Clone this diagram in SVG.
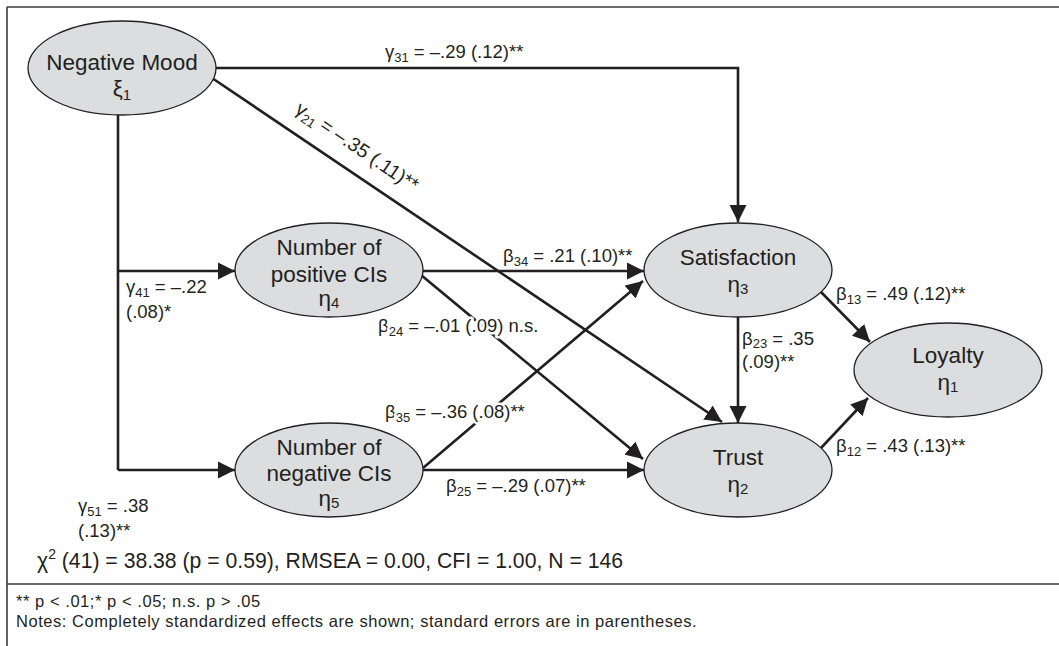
<svg xmlns="http://www.w3.org/2000/svg" width="1059" height="646" viewBox="0 0 1059 646">
<defs>
<style>
.frame{stroke:#3a3a3a;stroke-width:1.6;fill:none}
.node{fill:#dcdddf;stroke:#231f20;stroke-width:1.3}
.nt{font-family:"Liberation Sans",Arial,sans-serif;font-size:22.5px;fill:#231f20;text-anchor:middle}
.lbl{font-family:"Liberation Sans",Arial,sans-serif;font-size:18.5px;fill:#231f20}
.halo{stroke:#fff;stroke-width:5;paint-order:stroke;stroke-linejoin:round}
.sub{font-size:13px}
.edge{stroke:#231f20;stroke-width:2.6;fill:none}
.fit{font-family:"Liberation Sans",Arial,sans-serif;font-size:21.2px;fill:#231f20}
.foot{font-family:"Liberation Sans",Arial,sans-serif;font-size:16.5px;letter-spacing:0.55px;fill:#231f20}
</style>
<marker id="arr" markerUnits="userSpaceOnUse" markerWidth="18" markerHeight="18" refX="17" refY="8.5" orient="auto" viewBox="0 0 18 17">
<path d="M0,0 L17,8.5 L0,17 z" fill="#231f20"/>
</marker>
</defs>
<rect width="1059" height="646" fill="#fff"/>
<g id="frame">
<line class="frame" x1="7" y1="7" x2="1059" y2="7"/>
<line class="frame" x1="7" y1="7" x2="7" y2="646"/>
<line class="frame" x1="7" y1="584" x2="1059" y2="584"/>
</g>
<g id="connectors">
<path class="edge" d="M216,68 H738 V222" marker-end="url(#arr)"/>
<path class="edge" d="M212,78 L722,422" marker-end="url(#arr)"/>
<path class="edge" d="M118,114 V470"/>
<path class="edge" d="M118,271 H235" marker-end="url(#arr)"/>
<path class="edge" d="M118,470 H235" marker-end="url(#arr)"/>
<path class="edge" d="M423,271 H644" marker-end="url(#arr)"/>
<path class="edge" d="M421,275 L643,459" marker-end="url(#arr)"/>
<path class="edge" d="M423,468 L643,281" marker-end="url(#arr)"/>
<path class="edge" d="M423,470 H644" marker-end="url(#arr)"/>
<path class="edge" d="M738,317 V423" marker-end="url(#arr)"/>
<path class="edge" d="M821,292 L870,342" marker-end="url(#arr)"/>
<path class="edge" d="M821,448 L868,398" marker-end="url(#arr)"/>
</g>
<g id="node-negative-mood">
<ellipse class="node" cx="122" cy="68" rx="94" ry="47"/>
<text class="nt" x="122" y="70">Negative Mood</text>
<text class="nt" x="122" y="96">ξ<tspan font-size="15" dy="4">1</tspan></text>
</g>
<g id="node-positive">
<ellipse class="node" cx="329" cy="270" rx="94" ry="47"/>
<text class="nt" x="329" y="255">Number of</text>
<text class="nt" x="329" y="282">positive CIs</text>
<text class="nt" x="329" y="306">η<tspan font-size="15" dy="2">4</tspan></text>
</g>
<g id="node-negative">
<ellipse class="node" cx="329" cy="470" rx="94" ry="47"/>
<text class="nt" x="329" y="455">Number of</text>
<text class="nt" x="329" y="481">negative CIs</text>
<text class="nt" x="329" y="506">η<tspan font-size="15" dy="2">5</tspan></text>
</g>
<g id="node-satisfaction">
<ellipse class="node" cx="738" cy="270" rx="94" ry="47"/>
<text class="nt" x="738" y="265">Satisfaction</text>
<text class="nt" x="738" y="292">η<tspan font-size="15" dy="2">3</tspan></text>
</g>
<g id="node-trust">
<ellipse class="node" cx="738" cy="470" rx="94" ry="47"/>
<text class="nt" x="738" y="465">Trust</text>
<text class="nt" x="738" y="492">η<tspan font-size="15" dy="2">2</tspan></text>
</g>
<g id="node-loyalty">
<ellipse class="node" cx="948" cy="370" rx="94" ry="47"/>
<text class="nt" x="948" y="363">Loyalty</text>
<text class="nt" x="948" y="390">η<tspan font-size="15" dy="2">1</tspan></text>
</g>
<g id="labels">
<text class="lbl" x="385" y="58">γ<tspan class="sub" dy="4">31</tspan><tspan dy="-4"> = –.29 (.12)**</tspan></text>
<text class="lbl" style="font-size:19.5px" transform="translate(294,112) rotate(34)">γ<tspan class="sub" dy="4">21</tspan><tspan dy="-4"> = –.35 (.11)**</tspan></text>
<text class="lbl" x="503" y="262">β<tspan class="sub" dy="4">34</tspan><tspan dy="-4"> = .21 (.10)**</tspan></text>
<text class="lbl halo" x="378" y="332">β<tspan class="sub" dy="4">24</tspan><tspan dy="-4"> = –.01 (.09) n.s.</tspan></text>
<text class="lbl halo" x="385" y="418">β<tspan class="sub" dy="4">35</tspan><tspan dy="-4"> = –.36 (.08)**</tspan></text>
<text class="lbl" x="446" y="492">β<tspan class="sub" dy="4">25</tspan><tspan dy="-4"> = –.29 (.07)**</tspan></text>
<text class="lbl" x="126" y="293">γ<tspan class="sub" dy="4">41</tspan><tspan dy="-4"> = –.22</tspan></text>
<text class="lbl" x="126" y="318">(.08)*</text>
<text class="lbl" x="78" y="512">γ<tspan class="sub" dy="4">51</tspan><tspan dy="-4"> = .38</tspan></text>
<text class="lbl" x="78" y="537">(.13)**</text>
<text class="lbl" x="836" y="300">β<tspan class="sub" dy="4">13</tspan><tspan dy="-4"> = .49 (.12)**</tspan></text>
<text class="lbl" x="742" y="345">β<tspan class="sub" dy="3">23</tspan><tspan dy="-3"> = .35</tspan></text>
<text class="lbl" x="742" y="368">(.09)**</text>
<text class="lbl" x="836" y="452">β<tspan class="sub" dy="4">12</tspan><tspan dy="-4"> = .43 (.13)**</tspan></text>
</g>
<g id="fit">
<text class="fit" x="37" y="568">χ<tspan style="font-size:14px" dy="-9">2</tspan><tspan dy="9"> (41) = 38.38 (p = 0.59), RMSEA = 0.00, CFI = 1.00, N = 146</tspan></text>
</g>
<g id="notes">
<text class="foot" x="16" y="607">** p &lt; .01;* p &lt; .05; n.s. p &gt; .05</text>
<text class="foot" x="16" y="627">Notes: Completely standardized effects are shown; standard errors are in parentheses.</text>
</g>
</svg>
